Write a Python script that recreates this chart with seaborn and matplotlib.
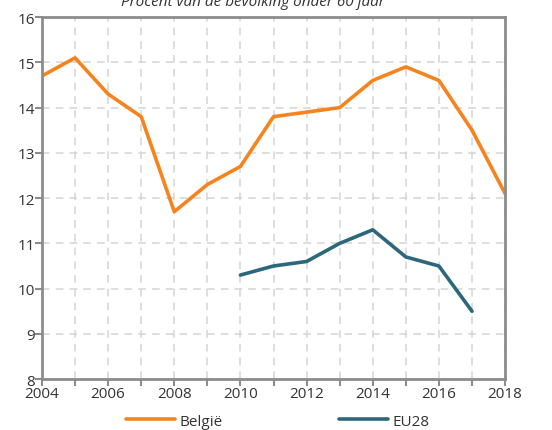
import numpy as np
import pandas as pd
import matplotlib
matplotlib.use("Agg")
import matplotlib.pyplot as plt
from matplotlib.ticker import MultipleLocator, FuncFormatter
import seaborn as sns

# data
years_be = [2004, 2005, 2006, 2007, 2008, 2009, 2010, 2011, 2012, 2013, 2014, 2015, 2016, 2017, 2018]
belgie = [14.7, 15.1, 14.3, 13.8, 11.7, 12.3, 12.7, 13.8, 13.9, 14.0, 14.6, 14.9, 14.6, 13.5, 12.1]
years_eu = [2010, 2011, 2012, 2013, 2014, 2015, 2016, 2017]
eu28 = [10.3, 10.5, 10.6, 11.0, 11.3, 10.7, 10.5, 9.5]
title = "Procent van de bevolking onder 60 jaar"

df = pd.concat([
    pd.DataFrame({"jaar": years_be, "waarde": belgie, "reeks": "België"}),
    pd.DataFrame({"jaar": years_eu, "waarde": eu28, "reeks": "EU28"}),
])

sns.set_theme(style="white")
plt.rcParams['font.family'] = ['Open Sans', 'DejaVu Sans']
grey = "#8c8c8c"
text_col = "#333333"

fig = plt.figure(figsize=(5.52, 4.31), dpi=100)
ax = fig.add_axes([0.076, 0.118, 0.839, 0.84])

sns.lineplot(data=df, x="jaar", y="waarde", hue="reeks",
             palette={"België": "#f5841f", "EU28": "#2b687b"},
             linewidth=2.6, ax=ax, legend=True)

ax.set_xlim(2004, 2018)
ax.set_ylim(8, 16)
ax.xaxis.set_major_locator(MultipleLocator(1))
ax.xaxis.set_major_formatter(FuncFormatter(lambda v, p: f"{int(v)}" if int(round(v)) % 2 == 0 else ""))
ax.yaxis.set_major_locator(MultipleLocator(1))
ax.grid(True, linestyle=(0, (5, 4)), color="#d4d4d4", linewidth=1.1)
for s in ax.spines.values():
    s.set_color(grey)
    s.set_linewidth(2)
ax.tick_params(axis="both", direction="out", length=5, width=1.5, color=grey,
               labelsize=11, labelcolor=text_col, pad=0, bottom=True, left=True)
ax.set_xlabel("")
ax.set_ylabel("")

ax.legend(loc="center", bbox_to_anchor=(0.51, -0.116), ncol=2, frameon=False,
          fontsize=11, handlelength=3.2, columnspacing=7.6, handletextpad=0.3,
          labelcolor=text_col, borderpad=0)

fig.text(253 / 552, 0.986, title, ha="center", va="baseline", fontsize=11,
         style="italic", color=text_col)

fig.savefig("out.png", dpi=100)
